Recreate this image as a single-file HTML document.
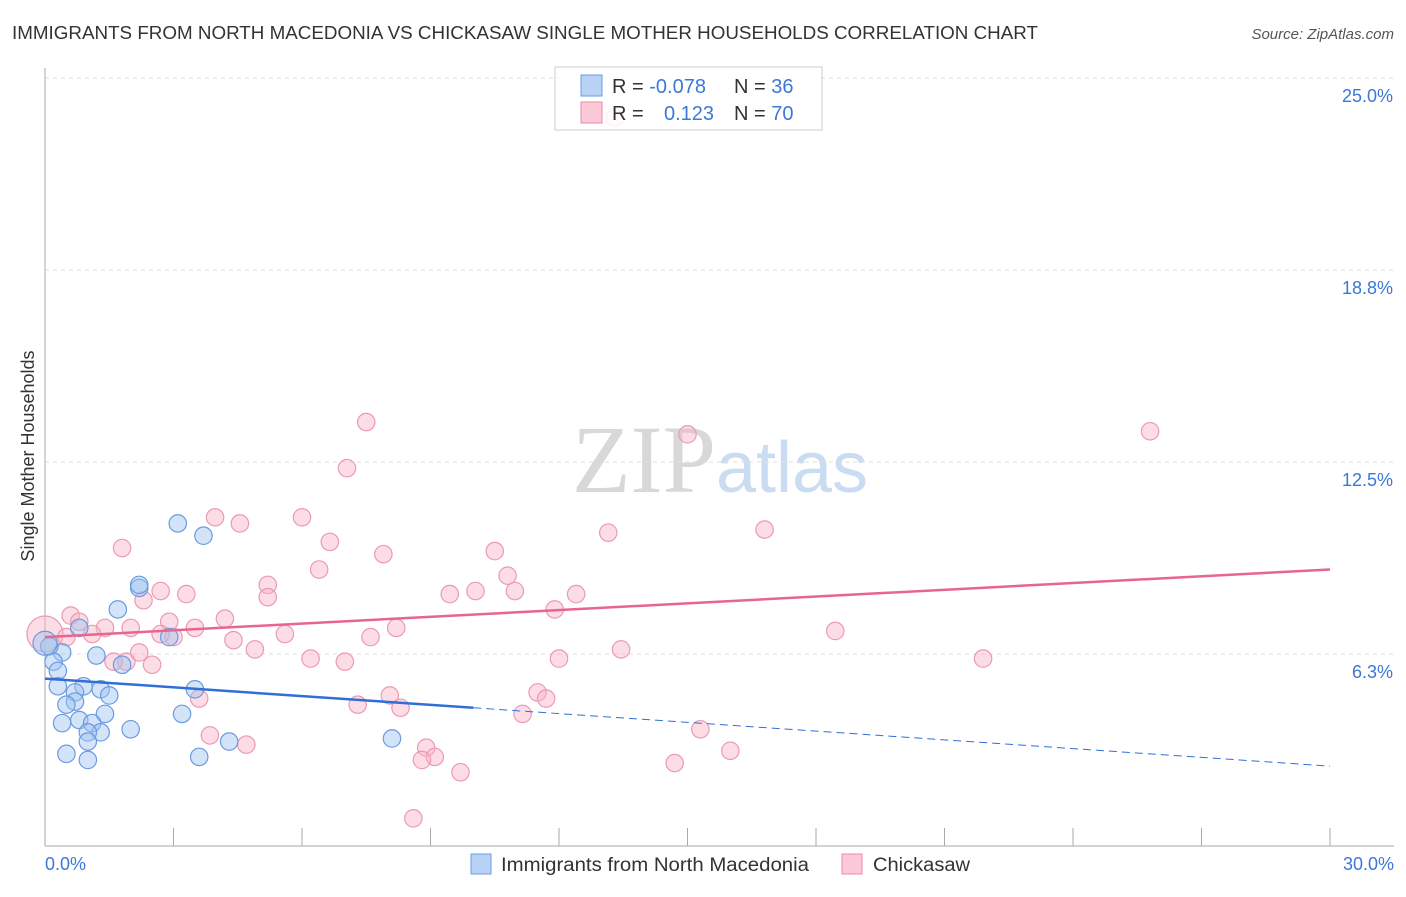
<!DOCTYPE html>
<html><head><meta charset="utf-8"><style>
body{margin:0;background:#fff;font-family:"Liberation Sans",sans-serif}
svg text{font-family:"Liberation Sans",sans-serif}
</style></head><body>
<svg id="chart" width="1406" height="892">
<text x="12" y="39" font-size="18" fill="#333" textLength="1026" lengthAdjust="spacingAndGlyphs">IMMIGRANTS FROM NORTH MACEDONIA VS CHICKASAW SINGLE MOTHER HOUSEHOLDS CORRELATION CHART</text>
<text x="1394" y="39" font-size="15" fill="#555" font-style="italic" text-anchor="end">Source: ZipAtlas.com</text>
<text x="720" y="492" font-size="96" fill="#ddd" text-anchor="middle" font-family="Liberation Serif"><tspan fill="#d8d8d8" font-family="Liberation Serif">ZIP</tspan><tspan fill="#c9dcf2" font-family="Liberation Sans" font-size="72">atlas</tspan></text>
<text transform="translate(34,456) rotate(-90)" font-size="18" fill="#333" text-anchor="middle">Single Mother Households</text>
<g id="grid"></g><g id="axes"></g><g id="pts"></g><g id="lines"></g>
<g>
<rect x="555" y="67" width="267" height="63" fill="#fff" fill-opacity="0.85" stroke="#ccc"/>
<rect x="581" y="75" width="21" height="21" fill="#b8d3f5" stroke="#6a9de0"/>
<rect x="581" y="102" width="21" height="21" fill="#fcc9d8" stroke="#e88aa8"/>
<text x="612" y="93" font-size="20" fill="#333">R = <tspan fill="#3b78d8">-0.078</tspan></text>
<text x="734" y="93" font-size="20" fill="#333">N = <tspan fill="#3b78d8">36</tspan></text>
<text x="612" y="120" font-size="20" fill="#333">R = <tspan fill="#3b78d8" x="664">0.123</tspan></text>
<text x="734" y="120" font-size="20" fill="#333">N = <tspan fill="#3b78d8">70</tspan></text>
</g>
<g>
<rect x="471" y="854" width="20" height="20" fill="#b8d3f5" stroke="#6a9de0"/>
<text x="501" y="871" font-size="19" fill="#333" textLength="308" lengthAdjust="spacingAndGlyphs">Immigrants from North Macedonia</text>
<rect x="842" y="854" width="20" height="20" fill="#fcc9d8" stroke="#e88aa8"/>
<text x="873" y="871" font-size="19" fill="#333" textLength="97" lengthAdjust="spacingAndGlyphs">Chickasaw</text>
</g>
</svg>
<script>
const yTicks=[6.25,12.5,18.75,25];
const yTickLabels=["6.3%","12.5%","18.8%","25.0%"];
const blueX=[3.1,3.7,2.2,2.2,1.7,0.8,2.9,0.4,1.2,1.8,0.1,0.2,0.3,0.3,0.9,1.3,1.5,0.7,0.7,0.5,3.5,1.4,3.2,0.4,0.8,1.1,1.3,1.0,1.0,2.0,0.5,1.0,3.6,4.3,8.1,0.0];
const blueY=[10.5,10.1,8.4,8.5,7.7,7.1,6.8,6.3,6.2,5.9,6.5,6.0,5.7,5.2,5.2,5.1,4.9,5.0,4.7,4.6,5.1,4.3,4.3,4.0,4.1,4.0,3.7,3.7,3.4,3.8,3.0,2.8,2.9,3.4,3.5,6.6];
const pinkX=[0.0,0.6,0.8,0.5,1.4,2.0,1.8,2.3,2.7,3.3,2.9,3.5,3.0,3.97,4.55,4.2,4.4,4.9,5.2,5.2,6.0,6.65,6.4,5.6,6.2,7.0,7.5,7.05,7.9,7.6,8.2,7.3,8.05,8.3,1.9,2.2,2.5,3.6,3.85,4.7,8.9,9.1,8.8,9.7,8.6,9.45,10.05,10.5,10.8,10.97,11.9,12.4,12.0,11.5,11.7,11.15,13.15,13.45,15.0,15.3,14.7,16.0,16.8,18.45,21.9,25.8,13.3,1.1,1.6,2.7];
const pinkY=[6.9,7.5,7.3,6.8,7.1,7.1,9.7,8.0,8.3,8.2,7.3,7.1,6.8,10.7,10.5,7.4,6.7,6.4,8.5,8.1,10.7,9.9,9.0,6.9,6.1,6.0,13.8,12.3,9.5,6.8,7.1,4.6,4.9,4.5,6.0,6.3,5.9,4.8,3.6,3.3,3.2,2.9,2.8,2.4,0.9,8.2,8.3,9.6,8.8,8.3,7.7,8.2,6.1,5.0,4.8,4.3,10.2,6.4,13.4,3.8,2.7,3.1,10.3,7.0,6.1,13.5,23.7,6.9,6.0,6.9];
const blueFit=[[0,5.45],[10,4.5],[30,2.6]];
const pinkFit=[[0,6.8],[30,9.0]];
const X=v=>45+v/30*1285, Y=v=>846-v/6.25*192;
const NS="http://www.w3.org/2000/svg";
function mk(t,a,p){const e=document.createElementNS(NS,t);for(const k in a)e.setAttribute(k,a[k]);document.getElementById(p).appendChild(e);return e;}
yTicks.forEach((t,i)=>{
 const g=mk('line',{x1:45,x2:1394,y1:Y(t),y2:Y(t),stroke:'#ddd','stroke-dasharray':'4,4'},'grid');
 
 
 const l=mk('text',{x:1393,y:Y(t)+24,'font-size':18,fill:'#3b78d8','text-anchor':'end'},'axes');
 l.textContent=yTickLabels[i];
 
 
});
const ax=mk('line',{x1:45,x2:45,y1:68,y2:846,stroke:'#aaa'},'axes');


const bx=mk('line',{x1:45,x2:1394,y1:846,y2:846,stroke:'#aaa'},'axes');


for(let i=0;i<=10;i++){const t=mk('line',{x1:X(i*3),x2:X(i*3),y1:828,y2:846,stroke:'#aaa'},'axes');
 
 }
[["0.0%",45,"start"],["30.0%",1394,"end"]].forEach(a=>{const t=mk('text',{x:a[1],y:870,'font-size':18,fill:'#3b78d8','text-anchor':a[2]},'axes');t.textContent=a[0];
 
 });
pinkX.forEach((v,i)=>{const c=mk('circle',{cx:X(v),cy:Y(pinkY[i]),r:i==0?18:8.7,fill:'rgba(248,180,200,0.45)',stroke:'#eb9ab4','stroke-width':1.2},'pts');
 
 });
blueX.forEach((v,i)=>{const c=mk('circle',{cx:X(v),cy:Y(blueY[i]),r:i==35?12:8.7,fill:'rgba(160,195,240,0.45)',stroke:'#6b9be0','stroke-width':1.2},'pts');
 
 });
const pl=mk('line',{x1:X(pinkFit[0][0]),y1:Y(pinkFit[0][1]),x2:X(pinkFit[1][0]),y2:Y(pinkFit[1][1]),stroke:'#e8658f','stroke-width':2.5},'lines');


const bl=mk('line',{x1:X(blueFit[0][0]),y1:Y(blueFit[0][1]),x2:X(blueFit[1][0]),y2:Y(blueFit[1][1]),stroke:'#2f6fd6','stroke-width':2.5},'lines');


const bd=mk('line',{x1:X(blueFit[1][0]),y1:Y(blueFit[1][1]),x2:X(blueFit[2][0]),y2:Y(blueFit[2][1]),stroke:'#2f6fd6','stroke-width':1,'stroke-dasharray':'8,5'},'lines');


</script>
</body></html>
